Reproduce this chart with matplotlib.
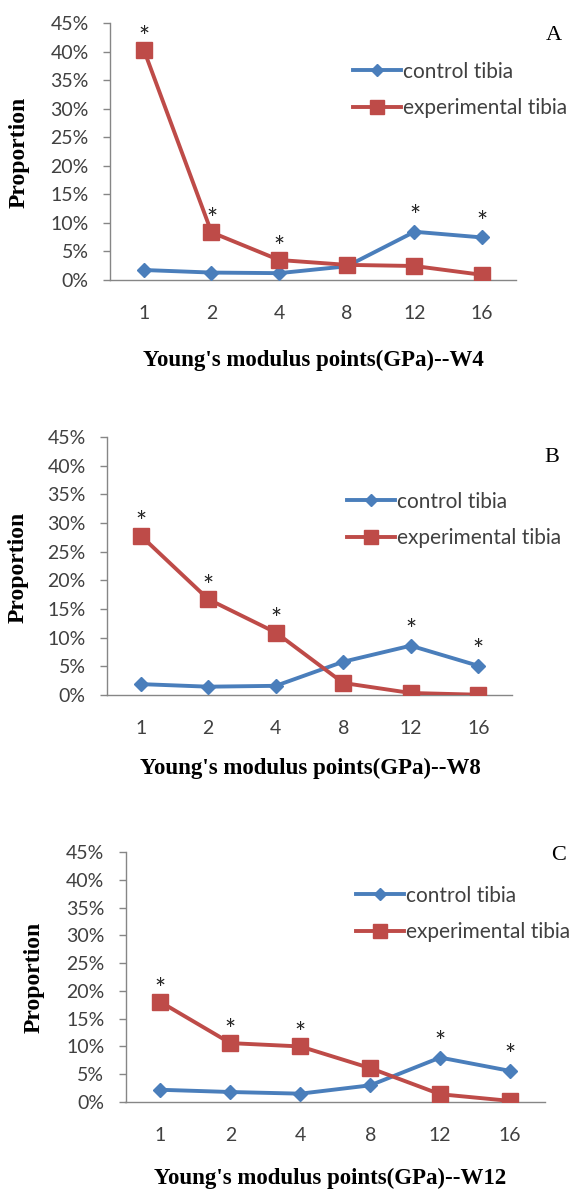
import matplotlib
matplotlib.use("Agg")
import matplotlib.pyplot as plt
import numpy as np

# data (percent)
x_labels = ['1', '2', '4', '8', '12', '16']
panel_names = ['A', 'B', 'C']
week_names = ['W4', 'W8', 'W12']

control_w4 = [1.75, 1.3, 1.2, 2.4, 8.45, 7.45]
exp_w4 = [40.3, 8.35, 3.5, 2.65, 2.45, 0.9]
control_w8 = [1.9, 1.45, 1.6, 5.8, 8.6, 5.1]
exp_w8 = [27.8, 16.7, 10.9, 2.1, 0.35, 0.05]
control_w12 = [2.2, 1.8, 1.5, 3.0, 8.0, 5.6]
exp_w12 = [18.0, 10.6, 10.0, 6.1, 1.4, 0.2]

# which points carry a significance star
sig_exp = [0, 1, 2]
sig_control = [4, 5]

W, H = 572, 1191
BLUE = '#4A7EBB'
RED = '#BE4B48'
TICK_COL = '#404040'
SPINE_COL = '#868686'

def fx(px): return px / W
def fy(py): return 1 - py / H

# layout per panel in pixels: left, right, top(45%), bottom(0%)
boxes = [(110, 516, 23, 280), (107, 512, 437, 695), (125.5, 545, 852, 1102)]
legend_pos = [(353, 90), (347, 520), (356, 914)]
xlabel_pos = [(313, 360), (310, 768), (330, 1178)]
ylabel_pos = [(19, 152), (18, 567), (34, 977)]
letter_pos = [(554, 35), (552, 458), (559, 855)]

series = [(control_w4, exp_w4), (control_w8, exp_w8), (control_w12, exp_w12)]

fig = plt.figure(figsize=(W / 100, H / 100), dpi=100)
fig.patch.set_facecolor('white')

for i, (ctrl, exp) in enumerate(series):
    l, r, t, b = boxes[i]
    ax = fig.add_axes([fx(l), fy(b), (r - l) / W, (b - t) / H])
    xs = np.arange(len(x_labels))
    ax.plot(xs, ctrl, color=BLUE, lw=2.8, marker='D', ms=7, label='control tibia', zorder=3)
    ax.plot(xs, exp, color=RED, lw=2.8, marker='s', ms=11.5, label='experimental tibia', zorder=4)
    for k in sig_exp:
        ax.annotate('*', (xs[k], exp[k]), xytext=(0, 3), textcoords='offset points',
                    ha='center', va='baseline', fontsize=19, family='Lato', color='#222222')
    for k in sig_control:
        ax.annotate('*', (xs[k], ctrl[k]), xytext=(0, 5), textcoords='offset points',
                    ha='center', va='baseline', fontsize=19, family='Lato', color='#222222')

    ax.set_xlim(-0.5, len(x_labels) - 0.5)
    ax.set_ylim(0, 45)
    ax.set_yticks(np.arange(0, 46, 5))
    ax.set_yticklabels([f'{v}%' for v in range(0, 46, 5)])
    ax.set_xticks(xs)
    ax.set_xticklabels(x_labels)
    for s in ['top', 'right']:
        ax.spines[s].set_visible(False)
    for s in ['left', 'bottom']:
        ax.spines[s].set_color(SPINE_COL)
        ax.spines[s].set_linewidth(1.0)
    ax.tick_params(axis='y', length=5.3, width=1.0, color=SPINE_COL, pad=10,
                   labelsize=14, labelcolor=TICK_COL)
    ax.tick_params(axis='x', length=0, pad=18, labelsize=14, labelcolor=TICK_COL)
    for lab in ax.get_xticklabels() + ax.get_yticklabels():
        lab.set_family('Lato')

    lx, ly = legend_pos[i]
    ax.legend(loc='center left', bbox_to_anchor=(fx(lx), fy(ly)), bbox_transform=fig.transFigure,
              frameon=False, prop={'family': 'Lato', 'size': 15}, handlelength=2.3,
              handletextpad=0.12, labelspacing=0.8, borderpad=0, borderaxespad=0,
              labelcolor=TICK_COL, markerscale=0.9)

    x0, y0 = xlabel_pos[i]
    fig.text(fx(x0), fy(y0), f"Young's modulus points(GPa)--{week_names[i]}", ha='center', va='center',
             family='Liberation Serif', weight='bold', fontsize=16.5, color='black')
    x0, y0 = ylabel_pos[i]
    fig.text(fx(x0), fy(y0), 'Proportion', ha='center', va='center', rotation=90,
             family='Liberation Serif', weight='bold', fontsize=17, color='black')
    x0, y0 = letter_pos[i]
    fig.text(fx(x0), fy(y0), panel_names[i], ha='center', va='center',
             family='Liberation Serif', fontsize=16, color='black')

fig.savefig('out.png', dpi=100)
